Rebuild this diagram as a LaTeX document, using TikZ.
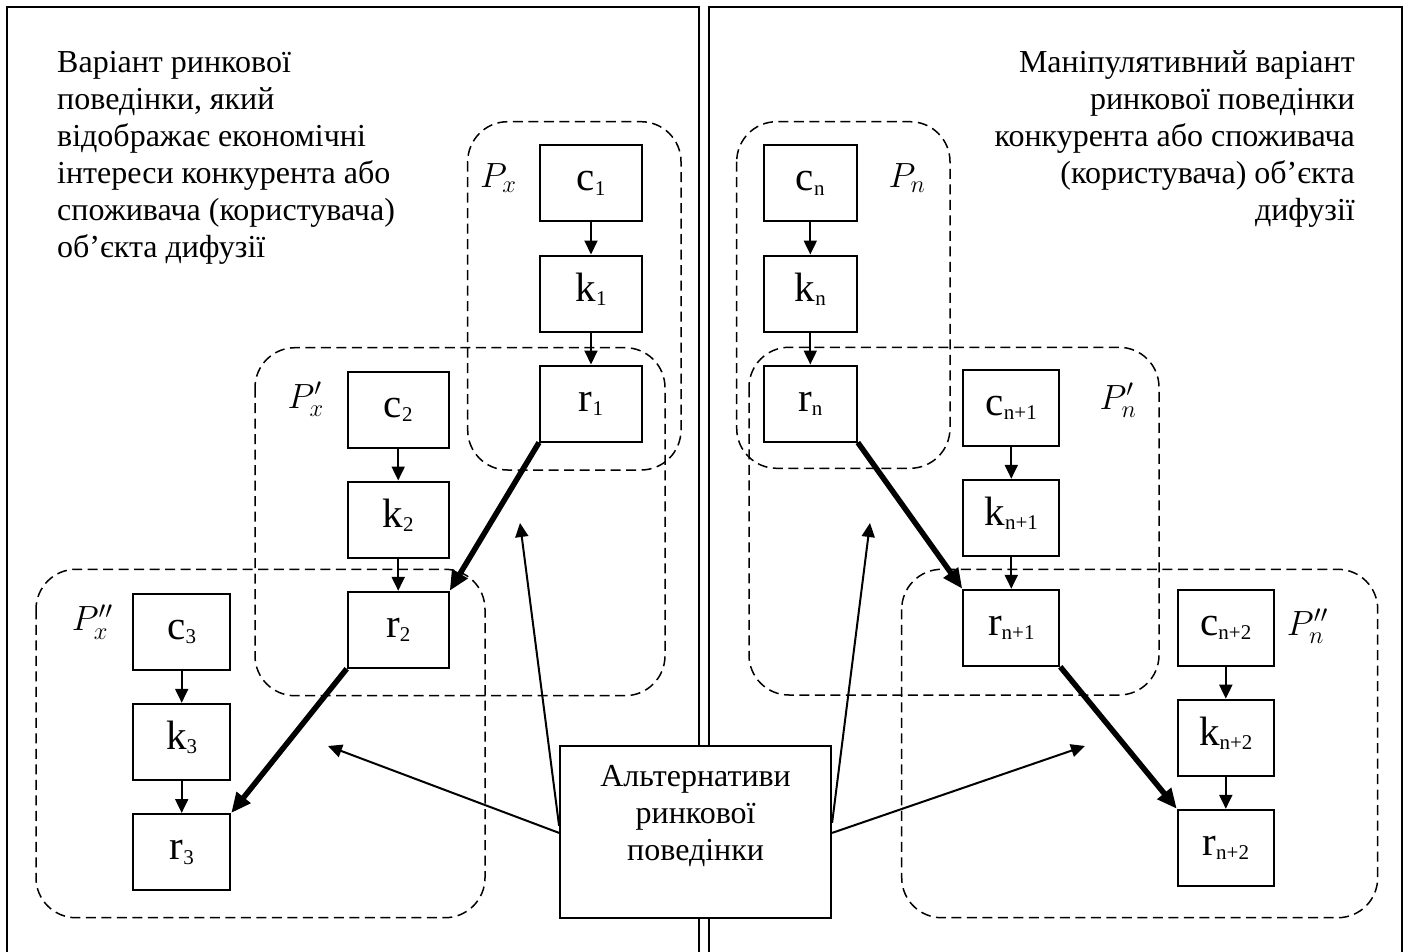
\RequirePackage{fix-cm}
\documentclass[tikz,border=0pt]{standalone}
\usepackage{fontspec}
\setmainfont{Liberation Serif}
\usetikzlibrary{arrows.meta}
\newcommand{\blbl}[2]{\fontsize{41}{41}\selectfont #1\raisebox{-4.5pt}{\fontsize{21}{21}\selectfont #2}}
\newcommand{\plbl}[1]{\fontsize{35}{35}\selectfont $#1$}
\begin{document}
\begin{tikzpicture}[x=1pt,y=-1pt,
  blk/.style={draw, line width=2pt, minimum height=76pt, inner sep=0pt, text height=15pt, text depth=0pt},
  grp/.style={draw, line width=1.5pt, dash pattern=on 10pt off 5.5pt, rounded corners=40pt},
  arr/.style={line width=2pt, -{Triangle[length=14pt,width=13pt]}},
  bigarr/.style={line width=5.5pt, -{Triangle[length=20pt,width=17pt]}},
  lbl/.style={anchor=base west, inner sep=0pt},
  txt/.style={inner sep=0pt, font=\fontsize{32}{37}\selectfont},
  frm/.style={line width=2pt}]
\useasboundingbox (0,0) rectangle (1408,952);
\clip (0,0) rectangle (1408,952);
% panels
\draw[frm] (7.3,7.3) rectangle (699,970);
\draw[frm] (709.3,7.3) rectangle (1401.7,970);
% groups
\draw[grp] (467.7,121.7) rectangle (681,470);
\draw[grp] (255,347.7) rectangle (665,695.7);
\draw[grp] (36,569.3) rectangle (485,917.7);
\draw[grp] (736.7,121.7) rectangle (950,468.3);
\draw[grp] (749,347.3) rectangle (1159,695);
\draw[grp] (901.7,569.3) rectangle (1377.7,917.7);
% texts (base anchor = last line)
\node[txt, anchor=base west, align=left] (ltxt) at (57,257.7) {Варіант ринкової\\поведінки, який\\відображає економічні\\інтереси конкурента або\\споживача (користувача)\\об’єкта дифузії};
\node[txt, anchor=base east, align=right] (rtxt) at (1355,220.7) {Маніпулятивний варіант\\ринкової поведінки\\конкурента або споживача\\(користувача) об’єкта\\дифузії};
% labels
\node[lbl] (px) at (480,187.3) {\plbl{P_x}};
\node[lbl] (ppx) at (287.3,408.3) {\plbl{P'_x}};
\node[lbl] (pppx) at (71.7,630.7) {\plbl{P''_x}};
\node[lbl] (pn) at (888.3,187.3) {\plbl{P_n}};
\node[lbl] (ppn) at (1099.3,409) {\plbl{P'_n}};
\node[lbl] (pppn) at (1286.7,635) {\plbl{P''_n}};
% boxes left
\node[blk, minimum width=102pt] (c1) at (591,183.5) {\blbl{c}{1}};
\node[blk, minimum width=102pt] (k1) at (591,293.5) {\blbl{k}{1}};
\node[blk, minimum width=102pt] (r1) at (591,403.5) {\blbl{r}{1}};
\node[blk, minimum width=101pt] (c2) at (398.2,409.5) {\blbl{c}{2}};
\node[blk, minimum width=101pt] (k2) at (398.2,519.5) {\blbl{k}{2}};
\node[blk, minimum width=101pt] (r2) at (398.2,629.8) {\blbl{r}{2}};
\node[blk, minimum width=97pt] (c3) at (181.7,631.5) {\blbl{c}{3}};
\node[blk, minimum width=97pt] (k3) at (181.7,741.8) {\blbl{k}{3}};
\node[blk, minimum width=97pt] (r3) at (181.7,852) {\blbl{r}{3}};
% boxes right
\node[blk, minimum width=93pt] (cn) at (810.3,183.5) {\blbl{c}{n}};
\node[blk, minimum width=93pt] (kn) at (810.3,293.5) {\blbl{k}{n}};
\node[blk, minimum width=93pt] (rn) at (810.3,403.5) {\blbl{r}{n}};
\node[blk, minimum width=96pt] (cn1) at (1011.3,407.8) {\blbl{c}{n+1}};
\node[blk, minimum width=96pt] (kn1) at (1011.3,517.8) {\blbl{k}{n+1}};
\node[blk, minimum width=96pt] (rn1) at (1011.3,627.8) {\blbl{r}{n+1}};
\node[blk, minimum width=96pt] (cn2) at (1225.8,627.8) {\blbl{c}{n+2}};
\node[blk, minimum width=96pt] (kn2) at (1225.8,737.7) {\blbl{k}{n+2}};
\node[blk, minimum width=96pt] (rn2) at (1225.8,847.8) {\blbl{r}{n+2}};
% alternatives box
\node[draw, fill=white, line width=2pt, minimum width=271pt, minimum height=172pt, inner sep=0pt] (alt) at (695.6,831.9) {};
\node[txt, anchor=base, align=center] (altt) at (695.6,860.7) {Альтернативи\\ринкової\\поведінки};
% chain arrows
\draw[arr] (c1) -- (k1);
\draw[arr] (k1) -- (r1);
\draw[arr] (c2) -- (k2);
\draw[arr] (k2) -- (r2);
\draw[arr] (c3) -- (k3);
\draw[arr] (k3) -- (r3);
\draw[arr] (cn) -- (kn);
\draw[arr] (kn) -- (rn);
\draw[arr] (cn1) -- (kn1);
\draw[arr] (kn1) -- (rn1);
\draw[arr] (cn2) -- (kn2);
\draw[arr] (kn2) -- (rn2);
% thick transitions
\draw[bigarr] (r1.south west) -- (r2.north east);
\draw[bigarr] (r2.south west) -- (r3.north east);
\draw[bigarr] (rn.south east) -- (rn1.north west);
\draw[bigarr] (rn1.south east) -- (rn2.north west);
% alternatives pointers
\coordinate (t1) at (520,523);
\coordinate (t2) at (328,746);
\coordinate (t3) at (870,523);
\coordinate (t4) at (1085,746);
\draw[arr] ([yshift=6pt]alt.west) -- (t1);
\draw[arr] ([yshift=-1pt]alt.west) -- (t2);
\draw[arr] ([yshift=9pt]alt.east) -- (t3);
\draw[arr] ([yshift=-1pt]alt.east) -- (t4);
\end{tikzpicture}
\end{document}
